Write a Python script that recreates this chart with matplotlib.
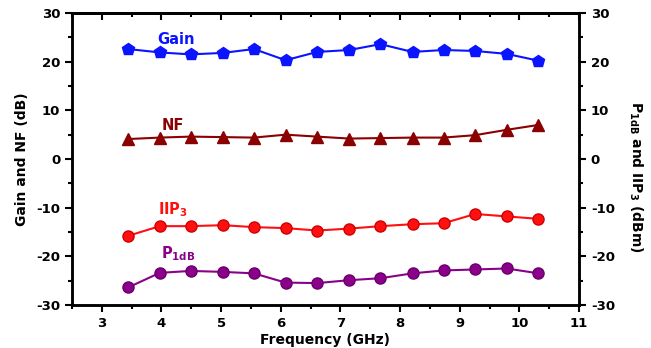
import numpy as np
import matplotlib.pyplot as plt
from matplotlib.ticker import MultipleLocator

plt.rcParams['font.family'] = ['DejaVu Sans']
plt.rcParams['font.weight'] = 'bold'
plt.rcParams['axes.unicode_minus'] = False
plt.rcParams['mathtext.default'] = 'bf'

# frequency points (GHz)
freq = [3.44, 3.97, 4.49, 5.03, 5.55, 6.08, 6.61, 7.15, 7.67, 8.21, 8.73, 9.26, 9.79, 10.32]
# left axis (dB)
gain = [22.6, 21.9, 21.5, 21.8, 22.6, 20.3, 22.0, 22.4, 23.6, 22.0, 22.4, 22.2, 21.6, 20.2]
nf = [4.1, 4.4, 4.6, 4.5, 4.4, 5.0, 4.6, 4.2, 4.3, 4.4, 4.4, 4.9, 6.0, 7.0]
# right axis (dBm)
iip3 = [-15.8, -13.8, -13.8, -13.6, -14.0, -14.2, -14.7, -14.3, -13.8, -13.4, -13.2, -11.3, -11.8, -12.3]
p1db = [-26.4, -23.4, -23.0, -23.2, -23.5, -25.4, -25.5, -24.9, -24.5, -23.5, -22.9, -22.7, -22.5, -23.5]

fig = plt.figure(figsize=(6.51, 3.48), dpi=100)
ax = fig.add_axes([0.1106, 0.1236, 0.7788, 0.839])
ax2 = ax.twinx()

ax.plot(freq, gain, color='#0a14ff', lw=1.5, marker='p', ms=9, mec='#0a14ff')
ax.plot(freq, nf, color='#8b0000', lw=1.5, marker='^', ms=8.5, mec='#8b0000')
ax2.plot(freq, iip3, color='#ff1010', lw=1.5, marker='o', ms=8, mec='#d00000')
ax2.plot(freq, p1db, color='#8b008b', lw=1.5, marker='o', ms=8, mec='#6a006a')

for a in (ax, ax2):
    a.set_ylim(-30, 30)
    a.yaxis.set_major_locator(MultipleLocator(10))
    a.yaxis.set_minor_locator(MultipleLocator(5))
    for s in a.spines.values():
        s.set_linewidth(1.8)
ax.set_xlim(2.5, 11)
ax.xaxis.set_major_locator(MultipleLocator(1))
ax.xaxis.set_minor_locator(MultipleLocator(0.5))

ax.tick_params(axis='both', which='both', labelsize=9.5, width=1.5, direction='out')
ax.tick_params(axis='both', which='major', length=5)
ax.tick_params(axis='both', which='minor', length=3)
ax2.tick_params(axis='y', which='both', labelsize=9.5, width=1.5, direction='out')
ax2.tick_params(axis='y', which='major', length=5)
ax2.tick_params(axis='y', which='minor', length=3)

# top ticks point inward
ax3 = ax.secondary_xaxis('top')
ax3.set_xticks(range(3, 12))
ax3.xaxis.set_minor_locator(MultipleLocator(0.5))
ax3.tick_params(which='both', direction='in', labeltop=False, width=1.5)
ax3.tick_params(which='major', length=5)
ax3.tick_params(which='minor', length=3)
ax3.spines['top'].set_linewidth(1.8)

for lbl in ax.get_xticklabels() + ax.get_yticklabels() + ax2.get_yticklabels():
    lbl.set_fontweight('bold')

ax.set_xlabel('Frequency (GHz)', fontsize=10, fontweight='bold', labelpad=2)
ax.set_ylabel('Gain and NF (dB)', fontsize=10, fontweight='bold', labelpad=5)
ax2.set_ylabel(r'P$_{1dB}$ and IIP$_{3}$ (dBm)', fontsize=10,
               fontweight='bold', rotation=-90, va='center')
ax2.yaxis.set_label_coords(1.112, 0.44)

ax.text(3.93, 23.6, 'Gain', color='#0a14ff', fontsize=10.5, fontweight='bold')
ax.text(4.0, 6.0, 'NF', color='#8b0000', fontsize=10.5, fontweight='bold')
ax.text(3.95, -11.4, r'IIP$_{3}$', color='#ff1010', fontsize=10.5, fontweight='bold')
ax.text(4.0, -20.4, r'P$_{1dB}$', color='#8b008b', fontsize=10.5, fontweight='bold')

fig.savefig('out.png', dpi=100)
